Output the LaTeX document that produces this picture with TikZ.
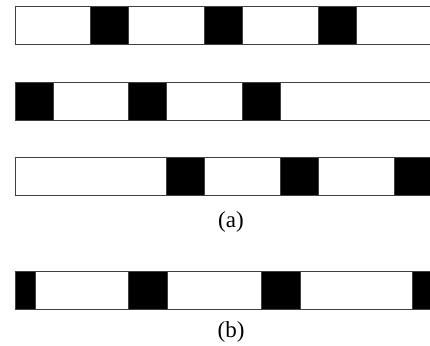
\documentclass[tikz,border=0pt]{standalone}
\usepackage{fontspec}
\setmainfont{Liberation Serif}
\def\barleft{15}
\def\barright{432}
\def\barh{38}
\def\cell{37.9}

\begin{document}
\begin{tikzpicture}[x=1pt,y=-1pt,
		bar/.style={draw=black!75,line width=0.8pt},
		blk/.style={fill=black,draw=black!75,line width=0.8pt},
		lbl/.style={font=\fontsize{23}{27}\selectfont,inner sep=0pt}]
		\clip (0,0) rectangle (430,345);
		
		% ============ (a) row 1 ============
		\begin{scope}[shift={(0,6)}]
			\draw[bar] (\barright,0) -- (\barleft,0) -- (\barleft,\barh) -- (\barright,\barh);
			\foreach \k in {2,5,8}
				\draw[blk] (\barleft+\k*\cell,0) rectangle ++(\cell,\barh);
		\end{scope}
		
		% ============ (a) row 2 ============
		\begin{scope}[shift={(0,82)}]
			\draw[bar] (\barright,0) -- (\barleft,0) -- (\barleft,\barh) -- (\barright,\barh);
			\foreach \k in {0,3,6}
				\draw[blk] (\barleft+\k*\cell,0) rectangle ++(\cell,\barh);
		\end{scope}
		
		% ============ (a) row 3 ============
		\begin{scope}[shift={(0,157)}]
			\draw[bar] (\barright,0) -- (\barleft,0) -- (\barleft,\barh) -- (\barright,\barh);
			\foreach \k in {4,7,10}
				\draw[blk] (\barleft+\k*\cell,0) rectangle ++(\cell,\barh);
		\end{scope}
		\node[lbl] (capa) at (231,222) {(a)};
		
		% ============ (b) ============
		\begin{scope}[shift={(0,271)}]
			\draw[bar] (\barright,0) -- (\barleft,0) -- (\barleft,\barh) -- (\barright,\barh);
			\draw[blk] (\barleft,0) rectangle (35,\barh);
			\foreach \x in {128,261}
				\draw[blk] (\x,0) rectangle ++(39,\barh);
			\draw[blk] (412,0) rectangle (\barright,\barh);
		\end{scope}
		\node[lbl] (capb) at (231,332) {(b)};
		
	\end{tikzpicture}
\end{document}
